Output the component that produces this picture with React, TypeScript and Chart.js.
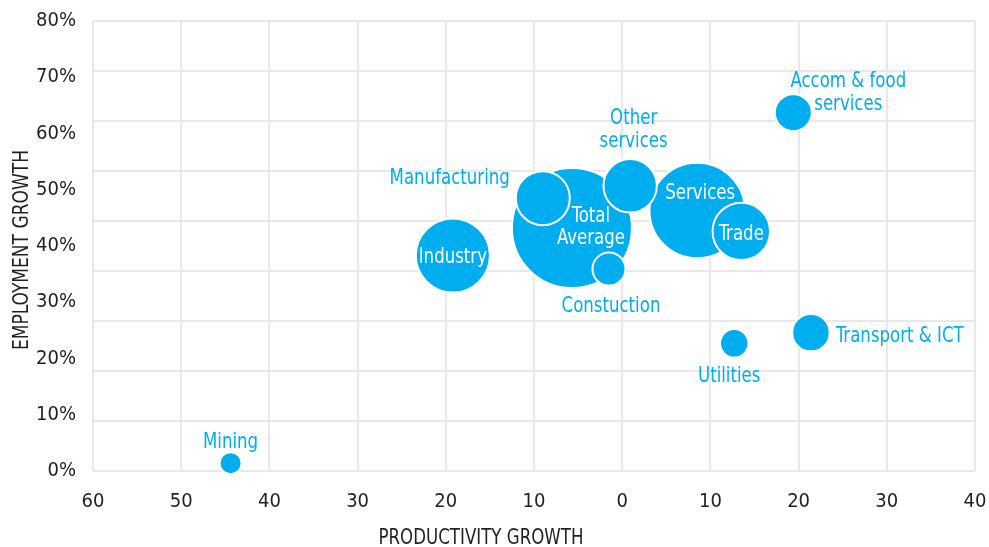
import React, { useEffect, useRef } from "react";
import { Chart, registerables } from "chart.js";

Chart.register(...registerables);

const sectors = ["Industry", "Mining", "Total Average", "Manufacturing", "Constuction", "Services", "Other services", "Trade", "Accom & food services", "Transport & ICT", "Utilities"];
const productivityGrowth = [-19.2, -44.4, -5.7, -9.0, -1.5, 8.5, 0.9, 13.5, 19.4, 21.4, 12.7];
const employmentGrowth = [38.3, 1.4, 43.2, 48.5, 35.9, 46.3, 50.7, 42.6, 63.7, 24.6, 22.7];
const bubbleSize = [37, 11, 60, 27, 16.5, 47.7, 26.7, 28.7, 18.5, 18.7, 14.2];

const xTicks = [-60, -50, -40, -30, -20, -10, 0, 10, 20, 30, 40];
const yTicks = [0, 10, 20, 30, 40, 50, 60, 70, 80];

const xTitle = "PRODUCTIVITY GROWTH";
const yTitle = "EMPLOYMENT GROWTH";

// label layout (offsets from bubble centre, alignment, colour)
const labelLayout: Record<string, { lines: string[]; dx: number; dy: number[]; align: CanvasTextAlign; inside: boolean }> = {
  "Industry": { lines: ["Industry"], dx: 0, dy: [0], align: "center", inside: true },
  "Mining": { lines: ["Mining"], dx: 0, dy: [-22], align: "center", inside: false },
  "Total Average": { lines: ["Total", "Average"], dx: 19, dy: [-13, 9], align: "center", inside: true },
  "Manufacturing": { lines: ["Manufacturing"], dx: -33, dy: [-22], align: "right", inside: false },
  "Constuction": { lines: ["Constuction"], dx: 2, dy: [36], align: "center", inside: false },
  "Services": { lines: ["Services"], dx: 3, dy: [-19], align: "center", inside: true },
  "Other services": { lines: ["Other", "services"], dx: 3.5, dy: [-69, -46], align: "center", inside: false },
  "Trade": { lines: ["Trade"], dx: 0, dy: [1], align: "center", inside: true },
  "Accom & food services": { lines: ["Accom & food", "services"], dx: 55, dy: [-33, -10], align: "center", inside: false },
  "Transport & ICT": { lines: ["Transport & ICT"], dx: 25, dy: [2], align: "left", inside: false },
  "Utilities": { lines: ["Utilities"], dx: -5, dy: [31], align: "center", inside: false },
};
const LABEL_BASELINE_SHIFT = 2;

const FONT = "'DejaVu Sans Condensed', 'Liberation Sans Narrow', 'Roboto', sans-serif";
const BLUE = "#00AEEF";
const GRID = "#e8e8e8";
const TEXT = "#231f20";

function drawScaledText(ctx: CanvasRenderingContext2D, text: string, x: number, y: number, align: CanvasTextAlign, sx: number) {
  ctx.save();
  ctx.translate(x, y);
  ctx.scale(sx, 1);
  ctx.textAlign = align;
  ctx.fillText(text, 0, 0);
  ctx.restore();
}

const labelPlugin = {
  id: "bubbleLabels",
  afterDatasetsDraw(chart: any) {
    const ctx = chart.ctx;
    const meta = chart.getDatasetMeta(0);
    ctx.save();
    ctx.font = `20.5px ${FONT}`;
    ctx.textBaseline = "middle";
    meta.data.forEach((el: any, i: number) => {
      const cfg = labelLayout[sectors[i]];
      if (!cfg) return;
      ctx.fillStyle = cfg.inside ? "#ffffff" : BLUE;
      cfg.lines.forEach((line, j) => {
        drawScaledText(ctx, line, el.x + cfg.dx, el.y + cfg.dy[j] + LABEL_BASELINE_SHIFT, cfg.align, 0.9);
      });
    });
    ctx.restore();
  },
  afterDraw(chart: any) {
    const ctx = chart.ctx;
    ctx.save();
    ctx.font = `22px ${FONT}`;
    ctx.fillStyle = TEXT;
    ctx.textBaseline = "middle";
    const sxX = 205 / ctx.measureText(xTitle).width;
    drawScaledText(ctx, xTitle, 481, 538, "center", sxX);
    const sxY = 200 / ctx.measureText(yTitle).width;
    ctx.translate(22, 250);
    ctx.rotate(-Math.PI / 2);
    drawScaledText(ctx, yTitle, 0, 0, "center", sxY);
    ctx.restore();
  },
};

export default function App() {
  const ref = useRef<HTMLCanvasElement>(null);
  useEffect(() => {
    document.body.style.margin = "0";
    const canvas = ref.current!;
    const chart = new Chart(canvas, {
      type: "bubble",
      data: {
        datasets: [
          {
            data: sectors.map((_, i) => ({ x: productivityGrowth[i], y: employmentGrowth[i], r: bubbleSize[i] })),
            backgroundColor: BLUE,
            borderColor: "#ffffff",
            borderWidth: 2,
            hoverBorderWidth: 2,
            clip: false,
          },
        ],
      },
      options: {
        responsive: false,
        animation: false,
        layout: { autoPadding: false, padding: { left: 0, right: 14, top: 21, bottom: 0 } },
        plugins: { legend: { display: false }, tooltip: { enabled: false } },
        scales: {
          x: {
            type: "linear",
            min: -60,
            max: 40,
            afterBuildTicks: (s: any) => { s.ticks = xTicks.map((v) => ({ value: v })); },
            grid: { color: GRID, lineWidth: 2, drawTicks: false },
            border: { display: false },
            ticks: {
              padding: 19,
              color: TEXT,
              font: { family: FONT, size: 20 },
              callback: (v: any) => String(Math.abs(Number(v))),
              maxRotation: 0,
            },
            afterFit: (s: any) => { s.height = 76; s.paddingLeft = 0; s.paddingRight = 0; },
          },
          y: {
            type: "linear",
            position: "left",
            min: 0,
            max: 80,
            afterBuildTicks: (s: any) => { s.ticks = yTicks.map((v) => ({ value: v })); },
            grid: { display: false, drawTicks: false },
            border: { display: false },
            ticks: {
              padding: 17,
              color: TEXT,
              font: { family: FONT, size: 20 },
              callback: (v: any) => `${v}%`,
            },
            afterFit: (s: any) => { s.width = 93; s.paddingTop = 0; s.paddingBottom = 0; },
          },
          yGrid: {
            type: "linear",
            position: "left",
            min: 0,
            max: 9,
            ticks: { display: false, stepSize: 1 },
            grid: { color: GRID, lineWidth: 2, drawTicks: false },
            border: { display: false },
            afterFit: (s: any) => { s.width = 0; s.paddingTop = 0; s.paddingBottom = 0; },
          },
        },
      },
      plugins: [labelPlugin],
    } as any);
    return () => chart.destroy();
  }, []);
  return <canvas ref={ref} width={989} height={547} style={{ display: "block" }} />;
}
